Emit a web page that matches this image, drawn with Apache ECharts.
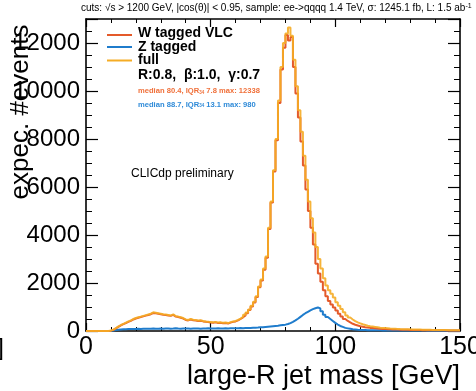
<!DOCTYPE html>
<html><head><meta charset="utf-8">
<script src="https://cdn.jsdelivr.net/npm/echarts@6/dist/echarts.min.js"></script>
<style>html,body{margin:0;padding:0;background:#fff}#c{width:476px;height:391px}</style>
</head><body><div id="c"></div>
<script>
// bin lower edges 0..149 GeV, 1 GeV bins
const binEdges = Array.from({length:151}, (_, i) => i);
const fullVals = [
0,0,0,0,0,0,0,0,0,20,
60,120,190,250,300,350,400,440,500,540,
570,600,630,660,690,720,780,760,740,720,
700,690,670,650,690,620,600,570,540,480,
460,500,470,460,440,450,420,400,390,370,
360,380,350,360,340,350,330,370,400,420,
460,520,590,680,770,900,1050,1220,1450,1850,
2150,2600,3100,4300,5400,6700,8000,9600,11000,12000,
12400,12650,12300,11300,10200,9200,8300,7300,6300,5400,
4700,4100,3500,3000,2600,2200,1900,1700,1550,1400,
1200,1050,920,780,650,560,480,410,360,320,
280,250,220,200,185,170,155,140,130,120,
110,100,95,90,85,80,78,75,70,68,
65,62,60,58,55,52,50,48,46,45,
44,42,40,40,38,36,35,34,33,32];
const wVals = [
0,0,0,0,0,0,0,0,0,15,
50,110,175,235,285,330,380,420,480,520,
550,580,610,640,670,700,750,740,720,700,
680,670,650,630,670,600,580,550,520,460,
440,480,450,440,420,430,400,385,370,350,
345,360,335,345,325,330,315,350,380,400,
440,500,570,650,740,870,1020,1190,1420,1820,
2100,2550,3050,4250,5350,6650,7950,9500,10900,11800,
12338,12100,12250,11000,9900,8900,7900,6900,5900,5000,
4300,3600,2800,2400,2050,1700,1450,1250,1100,980,
850,720,600,500,420,360,300,260,230,200,
180,160,145,130,120,110,100,92,85,80,
75,70,66,62,58,55,52,50,48,46,
44,42,40,38,36,35,34,33,32,31,
30,29,28,27,26,25,25,24,24,23];
const zVals = [
0,0,0,0,0,0,0,0,0,10,
25,40,50,60,70,75,80,80,85,85,
90,85,90,95,90,95,100,90,95,100,
95,100,105,95,100,110,100,95,100,105,
100,95,100,105,100,95,100,105,110,100,
105,100,110,105,100,110,105,110,115,110,
115,120,115,125,130,125,135,140,145,155,
160,170,180,190,200,210,220,235,250,265,
290,330,380,440,510,590,670,740,800,860,
910,950,980,940,820,680,580,500,420,340,
270,210,170,130,110,90,70,60,50,45,
40,38,35,33,30,30,28,27,26,25,
25,24,23,22,22,21,20,20,19,19,
18,18,17,17,16,16,15,15,15,14,
14,14,13,13,13,12,12,12,11,11];
const xTicks = [0, 50, 100, 150];
const yTicks = [0, 2000, 4000, 6000, 8000, 10000, 12000];
const legendNames = ['W tagged VLC', 'Z tagged', 'full'];
const paramText = 'R:0.8,  \u03b2:1.0,  \u03b3:0.7';
const wStats = {median: 80.4, iqr: 7.8, max: 12338};
const zStats = {median: 88.7, iqr: 13.1, max: 980};

const colW = '#e45a2a', colZ = '#1f7ccc', colF = '#f5ac25';
function hist(vals){
  const d = vals.map((v,i)=>[binEdges[i], v]);
  d.push([binEdges[vals.length], vals[vals.length-1]]);
  return d;
}
const FF = '"Liberation Sans", Arial, sans-serif';
const xMax = xTicks[xTicks.length-1];
const chart = echarts.init(document.getElementById('c'), null, {renderer:'canvas'});
const axisCommon = {
  axisLine:{show:true, onZero:false, lineStyle:{color:'#000', width:1.6}},
  splitLine:{show:false}
};
const graphics = [
    {type:'text', left:81, top:3, style:{
      text:'cuts: \u221as > 1200 GeV, |cos(\u03b8)| < 0.95, sample: ee->qqqq 1.4 TeV, \u03c3: 1245.1 fb, L: 1.5 ab{sup|-1}',
      rich:{sup:{fontSize:7, verticalAlign:'top', fontFamily:FF, fill:'#000'}},
      font:'10px '+FF, fill:'#000'}},
    {type:'text', x:21, y:112, rotation:Math.PI/2, style:{text:'expec. #events', font:'26px '+FF, fill:'#000', align:'center', verticalAlign:'middle'}},
    {type:'text', x:460, y:377, style:{text:'large-R jet mass [GeV]', font:'27px '+FF, fill:'#000', align:'right', verticalAlign:'middle'}},
    {type:'text', x:4, y:348, style:{text:']', font:'24px '+FF, fill:'#000', align:'right', verticalAlign:'middle'}},
    {type:'line', shape:{x1:107, y1:35, x2:132, y2:35}, style:{stroke:colW, lineWidth:2}},
    {type:'line', shape:{x1:107, y1:47, x2:132, y2:47}, style:{stroke:colZ, lineWidth:2}},
    {type:'line', shape:{x1:107, y1:60.5, x2:132, y2:60.5}, style:{stroke:colF, lineWidth:2}},
    {type:'text', x:138, y:33.5, style:{text:legendNames[0], font:'bold 14px '+FF, fill:'#000', verticalAlign:'middle'}},
    {type:'text', x:138, y:47, style:{text:legendNames[1], font:'bold 14px '+FF, fill:'#000', verticalAlign:'middle'}},
    {type:'text', x:138, y:60, style:{text:legendNames[2], font:'bold 14px '+FF, fill:'#000', verticalAlign:'middle'}},
    {type:'text', x:138, y:75.5, style:{text:paramText, font:'bold 14px '+FF, fill:'#000', verticalAlign:'middle'}},
    {type:'text', x:138, y:91, style:{
      text:'median '+wStats.median+', IQR{sub|34} '+wStats.iqr+' max: '+wStats.max,
      rich:{sub:{fontSize:4.5, verticalAlign:'bottom', fontWeight:'bold', fill:'#f0703a', fontFamily:FF}},
      font:'bold 7.6px '+FF, fill:'#f0703a', verticalAlign:'middle'}},
    {type:'text', x:138, y:104.5, style:{
      text:'median '+zStats.median+', IQR{sub|34} '+zStats.iqr+' max: '+zStats.max,
      rich:{sub:{fontSize:4.5, verticalAlign:'bottom', fontWeight:'bold', fill:'#2e8ad8', fontFamily:FF}},
      font:'bold 7.6px '+FF, fill:'#2e8ad8', verticalAlign:'middle'}},
    {type:'text', x:131, y:174, style:{text:'CLICdp preliminary', font:'12px '+FF, fill:'#000', verticalAlign:'middle'}}
];
chart.setOption({
  animation:false,
  backgroundColor:'#fff',
  grid:{left:86, right:16, top:19, bottom:60, containLabel:false},
  xAxis:[
    Object.assign({type:'value', min:0, max:150, interval:50, position:'bottom',
      axisTick:{inside:true, length:8, lineStyle:{color:'#000', width:1.2}},
      minorTick:{show:true, splitNumber:5, length:4, lineStyle:{color:'#000', width:1}},
      axisLabel:{fontSize:25, color:'#000', margin:4, fontFamily:FF,
        formatter:v=> (xTicks.includes(v) && v !== xMax) ? String(v) : ''}}, axisCommon),
    Object.assign({type:'value', min:0, max:150, interval:50, position:'top',
      axisTick:{inside:true, length:8, lineStyle:{color:'#000', width:1.2}},
      minorTick:{show:true, splitNumber:5, length:4, lineStyle:{color:'#000', width:1}},
      axisLabel:{show:false}}, axisCommon)
  ],
  yAxis:[
    Object.assign({type:'value', min:0, max:13000, interval:2000, position:'left',
      axisTick:{inside:true, length:12, lineStyle:{color:'#000', width:1.2}},
      minorTick:{show:true, splitNumber:4, length:6, lineStyle:{color:'#000', width:1}},
      axisLabel:{fontSize:24, color:'#000', margin:6, fontFamily:FF,
        formatter:v=> yTicks.includes(v) ? String(v) : ''}}, axisCommon),
    Object.assign({type:'value', min:0, max:13000, interval:2000, position:'right',
      axisTick:{inside:true, length:12, lineStyle:{color:'#000', width:1.2}},
      minorTick:{show:true, splitNumber:4, length:6, lineStyle:{color:'#000', width:1}},
      axisLabel:{show:false}}, axisCommon)
  ],
  series:[
    {name:legendNames[1], type:'line', step:'end', symbol:'none', data:hist(zVals), lineStyle:{color:colZ, width:2}, itemStyle:{color:colZ}, xAxisIndex:0, yAxisIndex:0},
    {name:legendNames[0], type:'line', step:'end', symbol:'none', data:hist(wVals), lineStyle:{color:colW, width:2}, itemStyle:{color:colW}, xAxisIndex:0, yAxisIndex:0},
    {name:legendNames[2], type:'line', step:'end', symbol:'none', data:hist(fullVals), lineStyle:{color:colF, width:2, opacity:0.9}, itemStyle:{color:colF}, xAxisIndex:0, yAxisIndex:0}
  ],
  graphic:graphics
});
// last x label placed by the axis scale (ROOT lets it spill past the canvas edge)
const px = chart.convertToPixel({xAxisIndex:0, yAxisIndex:0}, [xMax, 0]);
graphics.push({type:'text', x:px[0], y:px[1]+16, style:{text:String(xMax), font:'25px '+FF, fill:'#000', align:'center', verticalAlign:'middle'}});
chart.setOption({graphic:graphics});
</script></body></html>
